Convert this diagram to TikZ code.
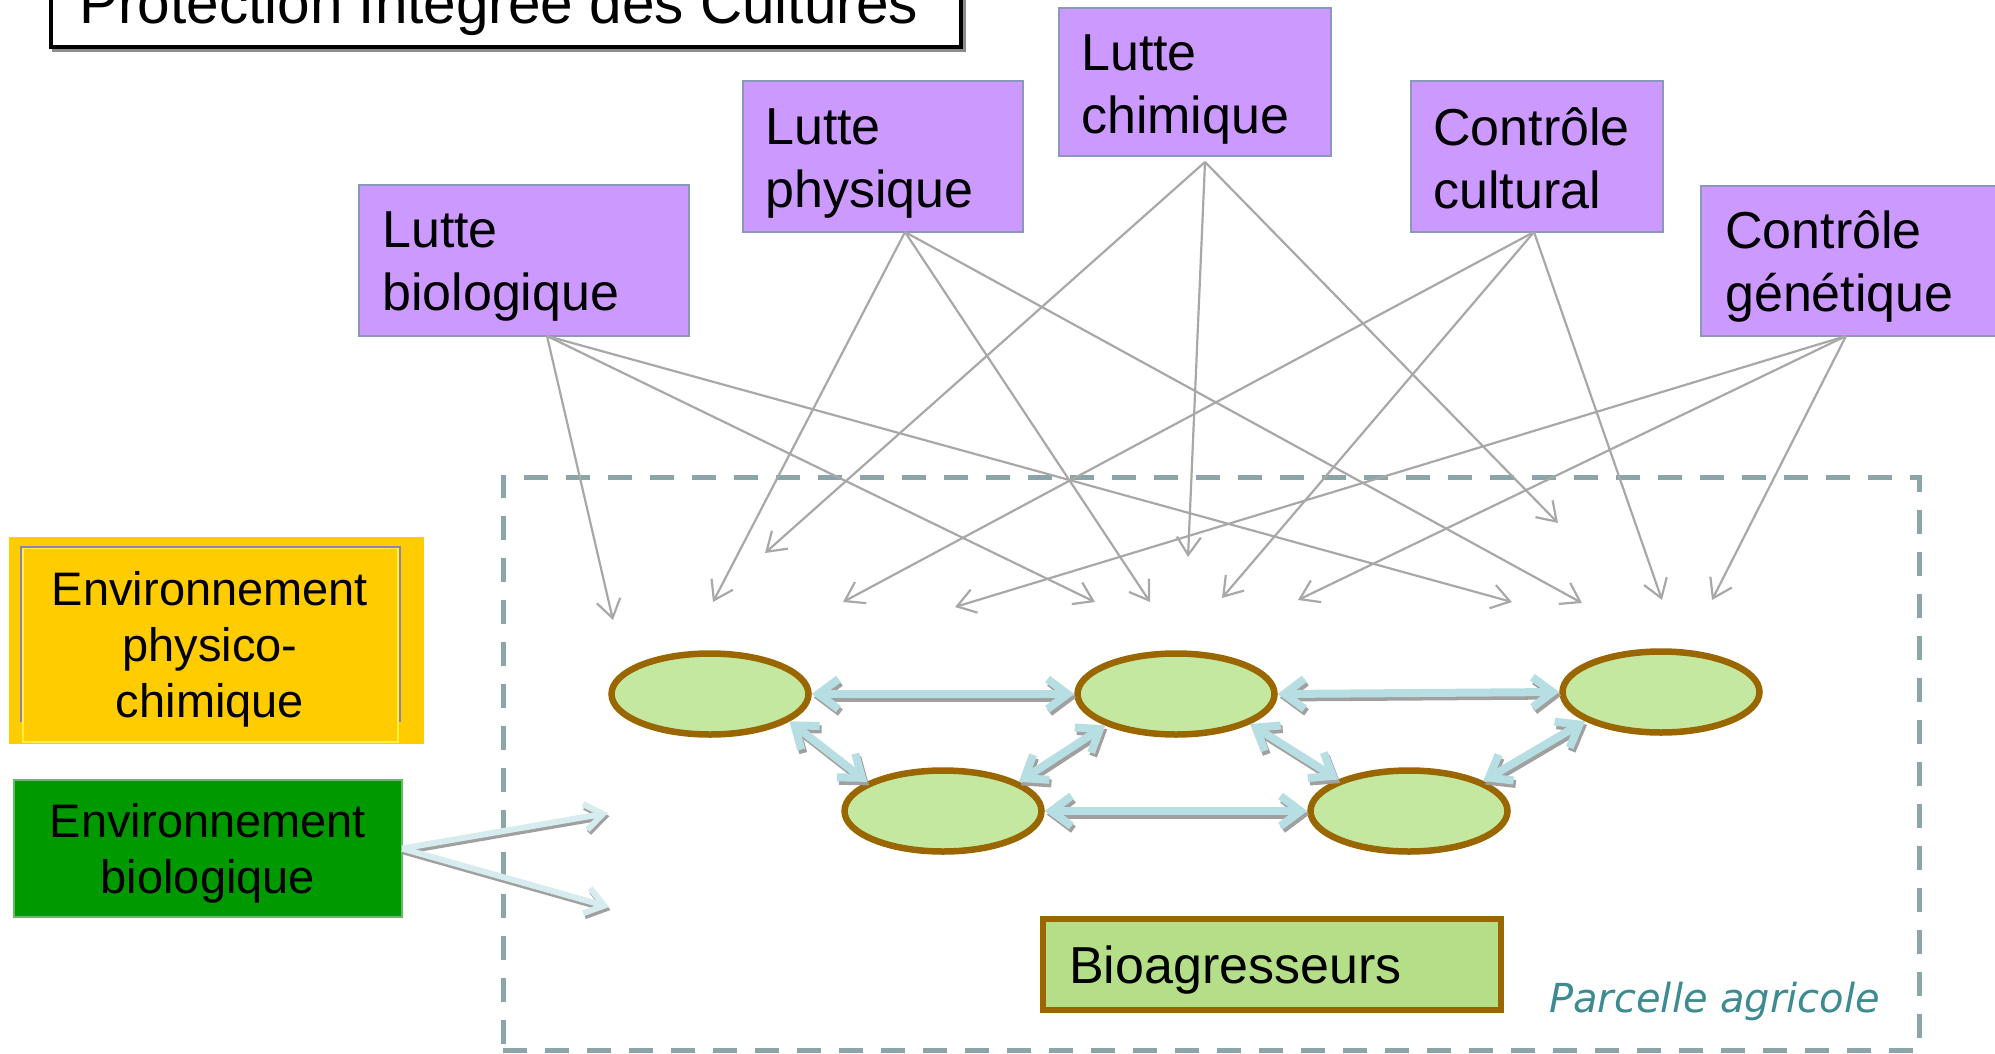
\documentclass[tikz,border=0pt]{standalone}
\usepackage{fontspec}
\setmainfont{Liberation Sans}
\newfontfamily\fieldfont{DejaVu Sans}
\usetikzlibrary{arrows.meta,shapes.geometric}
\definecolor{lilac}{HTML}{CC99FF}
\definecolor{lilacedge}{HTML}{8A98BC}
\definecolor{envyellow}{HTML}{FFCC00}
\definecolor{paleyellow}{HTML}{FFEE44}
\definecolor{frameviolet}{HTML}{8C84B0}
\definecolor{envgreen}{HTML}{009900}
\definecolor{envgreenedge}{HTML}{66BB66}
\definecolor{leaf}{HTML}{C4E8A0}
\definecolor{pestfill}{HTML}{B5DE88}
\definecolor{bark}{HTML}{996600}
\definecolor{fieldline}{HTML}{8CA5A8}
\definecolor{fieldtext}{HTML}{3D8B91}
\definecolor{ctrlgray}{HTML}{A8A8A8}
\definecolor{linkblue}{HTML}{B7DEE2}
\definecolor{linkpale}{HTML}{D6ECEE}
\definecolor{linkshade}{HTML}{A0A0A0}

\begin{document}
\begin{tikzpicture}[x=1pt,y=-1pt,
  box/.style={anchor=north west, inner sep=0pt, outer sep=0pt},
  method/.style={box, draw=lilacedge, fill=lilac, line width=1.5pt},
  methodtext/.style={anchor=north west, inner sep=0pt, align=left,
    font=\fontsize{52}{63}\selectfont},
  envtext/.style={anchor=north, inner sep=0pt, align=center,
    font=\fontsize{47}{56}\selectfont},
  pest/.style={ellipse, draw=bark, fill=leaf, line width=6.5pt,
    minimum width=197pt, minimum height=81pt, inner sep=0pt},
  ctrl/.style={draw=ctrlgray, line width=2.2pt,
    -{Straight Barb[length=18pt,width=24pt]}},
  linkshadow/.style={draw=linkshade, line width=8pt,
    {Straight Barb[length=20pt,width=30pt]}-{Straight Barb[length=20pt,width=30pt]},
    transform canvas={xshift=2pt,yshift=-3.5pt}},
  link/.style={draw=linkblue, line width=8pt,
    {Straight Barb[length=20pt,width=30pt]}-{Straight Barb[length=20pt,width=30pt]}},
  envshadow/.style={draw=linkshade, line width=6pt,
    -{Straight Barb[length=18pt,width=26pt]},
    transform canvas={xshift=1.5pt,yshift=-3pt}},
  envlink/.style={draw=linkpale, line width=6pt,
    -{Straight Barb[length=18pt,width=26pt]}},
]
\useasboundingbox (0,0) rectangle (1995,1053);
\clip (0,0) rectangle (1995,1053);

% title banner
\node[box, draw=black!45, line width=4pt, minimum width=910pt, minimum height=110pt,
  anchor=south west] (titleshadow) at (54,50) {};
\node[box, draw=black, fill=white, line width=4pt, minimum width=910pt,
  minimum height=110pt, anchor=south west] (title) at (51,47) {};
\node[anchor=base west, inner sep=0pt, font=\fontsize{58.5}{68}\selectfont]
  (titletext) at (79,23) {Protection Intégrée des Cultures};

% agricultural plot
\node[box, draw=fieldline, line width=5pt, dash pattern=on 24pt off 18pt,
  minimum width=1416pt, minimum height=573pt] (field) at (503,477) {};
\node[anchor=base west, inner sep=0pt, text=fieldtext,
  font=\fieldfont\itshape\fontsize{40}{48}\selectfont] (fieldlabel) at (1549,1012)
  {Parcelle agricole};

% protection methods
\node[method, minimum width=330pt, minimum height=151pt] (lb) at (359,185) {};
\node[method, minimum width=280pt, minimum height=151pt] (lp) at (743,81) {};
\node[method, minimum width=272pt, minimum height=148pt] (lc) at (1059,8) {};
\node[method, minimum width=252pt, minimum height=151pt] (cc) at (1411,81) {};
\node[method, minimum width=300pt, minimum height=150pt] (cg) at (1701,186) {};
\node[methodtext] (lbt) at (382,202.9) {\strut Lutte\\\strut biologique};
\node[methodtext] (lpt) at (765,99.9) {\strut Lutte\\\strut physique};
\node[methodtext] (lct) at (1081,25.9) {\strut Lutte\\\strut chimique};
\node[methodtext] (cct) at (1433,100.9) {\strut Contrôle\\\strut cultural};
\node[methodtext] (cgt) at (1725,203.9) {\strut Contrôle\\\strut génétique};

% environments
\node[box, fill=envyellow, minimum width=415pt, minimum height=207pt] (phys) at (9,537) {};
\draw[paleyellow, line width=2pt] (23,548) rectangle (398,742);
\draw[frameviolet, line width=1.5pt] (21,722) -- (21,547) -- (400,547) -- (400,722);
\node[envtext] (physt) at (210,565.8) {\strut Environnement\\\strut physico-\\\strut chimique};
\node[box, draw=envgreenedge, fill=envgreen, line width=1.5pt,
  minimum width=388pt, minimum height=137pt] (bio) at (14,780) {};
\node[envtext] (biot) at (208,797.8) {\strut Environnement\\\strut biologique};

% pests
\node[pest] (e1) at (710,694) {};
\node[pest] (e2) at (1176,694) {};
\node[pest] (e3) at (1661,692) {};
\node[pest] (e4) at (943,811) {};
\node[pest] (e5) at (1409,811) {};
\node[box, draw=bark, fill=pestfill, line width=6pt, minimum width=458pt,
  minimum height=91pt] (pests) at (1043,919) {};
\node[anchor=base west, inner sep=0pt, font=\fontsize{52}{63}\selectfont]
  (pestst) at (1069,983) {Bioagresseurs};

% tips of the control arrows
\coordinate (lb1) at (613,620);  \coordinate (lb2) at (1095,602); \coordinate (lb3) at (1512,602);
\coordinate (lp1) at (713,602);  \coordinate (lp2) at (1150,602); \coordinate (lp3) at (1582,603);
\coordinate (lc1) at (765,553);  \coordinate (lc2) at (1188,557); \coordinate (lc3) at (1558,523);
\coordinate (cc1) at (843,602);  \coordinate (cc2) at (1222,598); \coordinate (cc3) at (1662,600);
\coordinate (cg1) at (955,607);  \coordinate (cg2) at (1298,600); \coordinate (cg3) at (1712,600);

\foreach \t in {lb1,lb2,lb3} \draw[ctrl] ([xshift=23pt]lb.south) -- (\t);
\foreach \t in {lp1,lp2,lp3} \draw[ctrl] ([xshift=22pt]lp.south) -- (\t);
\foreach \t in {lc1,lc2,lc3} \draw[ctrl] ([xshift=10pt,yshift=-6pt]lc.south) -- (\t);
\foreach \t in {cc1,cc2,cc3} \draw[ctrl] ([xshift=-3pt]cc.south) -- (\t);
\foreach \t in {cg1,cg2,cg3} \draw[ctrl] ([xshift=-5pt]cg.south) -- (\t);

% interactions between pests
\foreach \a/\b in {e1.east/e2.west, e2.east/e3.west, e4.east/e5.west,
  e1.-19/e4.159, e4.21/e2.-156, e2.-22/e5.156, e5.22/e3.-159}
  \draw[linkshadow] (\a) -- (\b);
\foreach \a/\b in {e1.east/e2.west, e2.east/e3.west, e4.east/e5.west,
  e1.-19/e4.159, e4.21/e2.-156, e2.-22/e5.156, e5.22/e3.-159}
  \draw[link] (\a) -- (\b);

% biological environment acting on the plot
\coordinate (bio1) at (608,813);
\coordinate (bio2) at (609,907);
\foreach \t in {bio1,bio2} \draw[envshadow] (bio.east) -- (\t);
\foreach \t in {bio1,bio2} \draw[envlink] (bio.east) -- (\t);
\end{tikzpicture}
\end{document}
